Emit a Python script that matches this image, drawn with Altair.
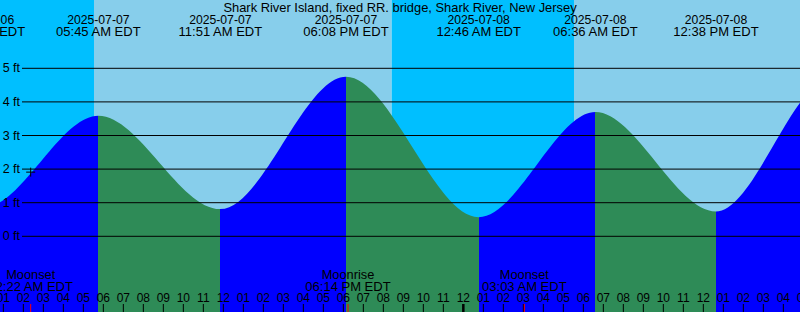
import altair as alt
import pandas as pd

W, H = 800, 312
FONT = "Liberation Sans"

# Tide extremes: hours after 2025-07-07 00:00 EDT, height in ft
tide_hours = [-6.583, -0.0167, 5.75, 11.85, 18.133, 24.767, 30.6, 36.633, 42.383, 48.917]
tide_ft = [4.55, 0.85, 3.59, 0.81, 4.75, 0.57, 3.70, 0.74, 4.68, 0.50]

# Labelled tide extremes (top of chart)
label_hours = [-0.0167, 5.75, 11.85, 18.133, 24.767, 30.6, 36.633]
label_dates = ["2025-07-06", "2025-07-07", "2025-07-07", "2025-07-07",
               "2025-07-08", "2025-07-08", "2025-07-08"]
label_times = ["11:59 PM EDT", "05:45 AM EDT", "11:51 AM EDT", "06:08 PM EDT",
               "12:46 AM EDT", "06:36 AM EDT", "12:38 PM EDT"]

# Day / night bands
sun_start = [-12.0, 5.533, 20.417, 29.533]
sun_end = [5.533, 20.417, 29.533, 50.0]
sun_kind = ["night", "day", "night", "day"]

# Moon events
moon_hours = [2.367, 18.233, 27.05]
moon_events = ["Moonset", "Moonrise", "Moonset"]
moon_times = ["02:22 AM EDT", "06:14 PM EDT", "03:03 AM EDT"]

# Marker on the curve
marker_hours = [2.367]
marker_ft = [1.91]

grid_ft = [0, 1, 2, 3, 4, 5]
hour_ticks = list(range(1, 42))
midnight_ticks = [24]

TITLE = "Shark River Island, fixed RR. bridge, Shark River, New Jersey"

# ---------------------------------------------------------------
tide_df = pd.DataFrame({"h": tide_hours, "ft": tide_ft})
lab_df = pd.DataFrame({"h": label_hours, "d": label_dates, "t": label_times})
sun_df = pd.DataFrame({"start": sun_start, "end": sun_end, "kind": sun_kind})
moon_df = pd.DataFrame({"h": moon_hours, "ev": moon_events, "t": moon_times})
mark_df = pd.DataFrame({"h": marker_hours, "ft": marker_ft})
grid_df = pd.DataFrame({"ft": grid_ft, "label": [f"{v} ft" for v in grid_ft]})
hour_df = pd.DataFrame({"h": hour_ticks, "label": [f"{(v - 1) % 12 + 1:02d}" for v in hour_ticks]})
mid_df = pd.DataFrame({"h": midnight_ticks})
title_df = pd.DataFrame({"t": [TITLE]})

Y_MIN, Y_MAX = -2.253, 7.033
xs = alt.Scale(domain=[0.8333, 40.8333], nice=False, zero=False)
ys = alt.Scale(domain=[Y_MIN, Y_MAX], nice=False, zero=False)


def X(f):
    return alt.X(f, type="quantitative", scale=xs, axis=None)


def Y(f):
    return alt.Y(f, type="quantitative", scale=ys, axis=None)


# gradient stops: blue for rising, green for falling
BLUE, GREEN = "#0000FF", "#2E8B57"
t0, t1 = tide_hours[0], tide_hours[-1]
stops = []
for i in range(len(tide_hours) - 1):
    c = BLUE if tide_ft[i + 1] > tide_ft[i] else GREEN
    stops.append({"offset": (tide_hours[i] - t0) / (t1 - t0), "color": c})
    stops.append({"offset": (tide_hours[i + 1] - t0) / (t1 - t0), "color": c})
grad = {"gradient": "linear", "x1": 0, "x2": 1, "y1": 0, "y2": 0, "stops": stops}

bg = alt.Chart(sun_df).mark_rect(clip=True).encode(
    x=X("start"), x2="end", y=alt.value(0), y2=alt.value(H),
    color=alt.Color("kind:N", scale=alt.Scale(domain=["night", "day"],
                                              range=["#00BFFF", "#87CEEB"]), legend=None),
)

area = alt.Chart(tide_df).mark_area(interpolate="monotone", clip=True, color=grad, opacity=1).encode(
    x=X("h"), y=Y("ft"), y2=alt.datum(Y_MIN - 0.5)
)

grid = alt.Chart(grid_df).mark_rule(color="black", strokeWidth=1).encode(
    y=Y("ft"), x=alt.value(22), x2=alt.value(W)
)
glab = alt.Chart(grid_df).mark_text(align="right", baseline="middle", font=FONT,
                                    fontSize=12.5, color="black").encode(
    y=Y("ft"), x=alt.value(20), text="label:N"
)

date_txt = alt.Chart(lab_df).mark_text(align="center", baseline="alphabetic", font=FONT,
                                       fontSize=12.2, color="black").encode(
    x=X("h"), y=alt.value(24), text="d:N"
)
time_txt = alt.Chart(lab_df).mark_text(align="center", baseline="alphabetic", font=FONT,
                                       fontSize=13, color="black").encode(
    x=X("h"), y=alt.value(36), text="t:N"
)
title = alt.Chart(title_df).mark_text(align="center", baseline="alphabetic", font=FONT,
                                      fontSize=12.9, color="black").encode(
    x=alt.value(400), y=alt.value(11.5), text="t:N"
)

moon_ev = alt.Chart(moon_df).mark_text(align="center", baseline="alphabetic", font=FONT,
                                       fontSize=12.8, color="black").encode(
    x=X("h"), y=alt.value(278.5), text="ev:N"
)
moon_t = alt.Chart(moon_df).mark_text(align="center", baseline="alphabetic", font=FONT,
                                      fontSize=13, color="black").encode(
    x=X("h"), y=alt.value(290.5), text="t:N"
)

hour_lab = alt.Chart(hour_df).mark_text(align="center", baseline="alphabetic", font=FONT,
                                        fontSize=12, color="black").encode(
    x=X("h"), y=alt.value(302.3), text="label:N"
)
hour_tk = alt.Chart(hour_df).mark_rule(color="black", strokeWidth=1).encode(
    x=X("h"), y=alt.value(304), y2=alt.value(H)
)
mid_tk = alt.Chart(mid_df).mark_rule(color="black", strokeWidth=2.5).encode(
    x=X("h"), y=alt.value(304), y2=alt.value(H)
)
moon_tk = alt.Chart(moon_df).mark_rule(color="red", strokeWidth=1).encode(
    x=X("h"), y=alt.value(304), y2=alt.value(H)
)
marker = alt.Chart(mark_df).mark_point(shape="M-1,0L1,0M0,-1L0,1", size=81, filled=False,
                                       color="black", strokeWidth=1, opacity=1).encode(
    x=X("h"), y=Y("ft")
)

chart = alt.layer(
    bg, area, grid, glab, date_txt, time_txt, title, moon_ev, moon_t,
    hour_lab, hour_tk, mid_tk, moon_tk, marker
).properties(
    width=W, height=H, padding=0, autosize="none", background="white"
).configure_view(stroke=None)

chart.save("out.html", embed_options={"renderer": "svg", "actions": False})
